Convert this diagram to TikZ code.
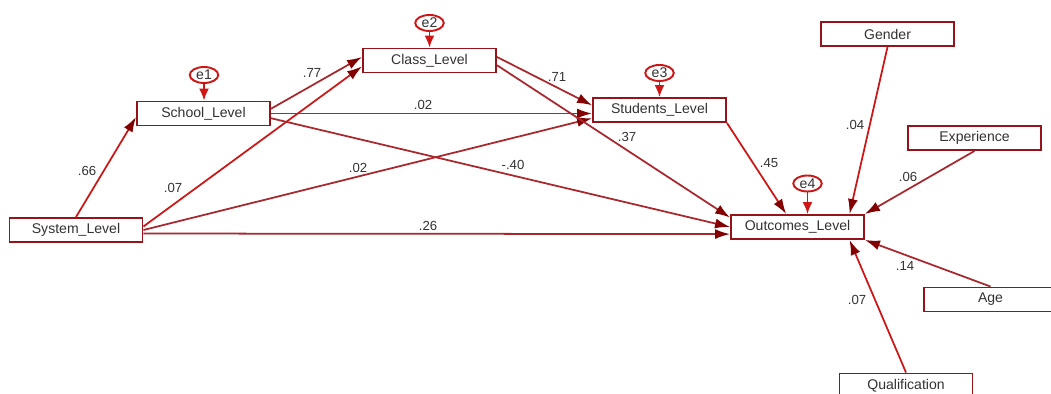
\documentclass[tikz,border=0pt]{standalone}
\usepackage{fontspec}
\setmainfont{Liberation Sans}
\usetikzlibrary{arrows.meta,shapes.geometric}

\definecolor{boxred}{RGB}{150,20,25}
\definecolor{linered}{RGB}{168,40,46}
\definecolor{brightred}{RGB}{205,22,22}
\definecolor{tipred}{RGB}{130,0,0}
\definecolor{textgray}{RGB}{50,50,50}

\begin{document}
\begin{tikzpicture}[x=0.02cm, y=-0.02cm,
    box/.style={draw=boxred, line width=1.1pt, minimum width=2.66cm, minimum height=0.48cm,
        inner sep=0pt, text=textgray, font=\fontsize{8}{9}\selectfont},
    err/.style={ellipse, draw=brightred, line width=1.1pt, minimum width=0.57cm, minimum height=0.32cm,
        inner sep=0pt, text=textgray, font=\fontsize{8}{9}\selectfont},
    arr/.style={draw=linered, line width=1pt, -{Latex[length=0.3cm, width=0.2cm, color=tipred]}},
    arrb/.style={arr, draw=brightred},
    earr/.style={draw=brightred, line width=1pt, -{Latex[length=0.24cm, width=0.2cm, color=brightred]}},
    lbl/.style={text=textgray, inner sep=0pt, font=\fontsize{7.5}{8}\selectfont}]

    % Frame (pixels of the reference)
    \useasboundingbox (0,0) rectangle (1051,394);
    \clip (0,0) rectangle (1051,394);

    % Observed variables
    \node[box] (sys) at (76,230) {System\_Level};
    \node[box] (school) at (203.5,113.5) {School\_Level};
    \node[box] (class) at (429.5,60.5) {Class\_Level};
    \node[box] (students) at (659.5,110) {Students\_Level};
    \node[box] (outcomes) at (797.5,227) {Outcomes\_Level};
    \node[box] (gender) at (887.5,34) {Gender};
    \node[box] (experience) at (974.5,138) {Experience};
    \node[box] (age) at (990.5,299.5) {Age};
    \node[box] (qual) at (906,385.5) {Qualification};

    % Error terms
    \node[err] (e1) at (204,75) {e1};
    \node[err] (e2) at (429.5,23) {e2};
    \node[err] (e3) at (659.5,73) {e3};
    \node[err] (e4) at (807.5,183.5) {e4};

    \draw[earr] (e1.south) -- (e1.south |- school.north);
    \draw[earr] (e2.south) -- (e2.south |- class.north);
    \draw[earr] (e3.south) -- (e3.south |- students.north);
    \draw[earr] (e4.south) -- (e4.south |- outcomes.north);

    % Paths from System_Level
    \draw[arrb] (sys.north) -- (school.183);
    \draw[arrb] (sys.3) -- (class.185);
    \draw[arr] (sys.east) -- (students.187);
    \draw[arr] (sys.-3) -- (outcomes.186);

    % Paths from School_Level and Class_Level
    \draw[arr] (school.4) -- (class.177);
    \draw[arr] (school.east) -- (school.east -| students.west);
    \draw[arr] (school.-4) -- (outcomes.west);
    \draw[arr] (class.3) -- (students.176);
    \draw[arr] (class.-4) -- (outcomes.172);

    % Paths into Outcomes_Level
    \draw[arrb] (students.south east) -- (outcomes.131);
    \draw[arrb] (gender.south) -- (outcomes.14);
    \draw[arr] (experience.south) -- (outcomes.north east);
    \draw[arr] (age.north) -- (outcomes.south east);
    \draw[arrb] (qual.north) -- (outcomes.-14);

    % Coefficients
    \node[lbl] (c66) at (87,171) {.66};
    \node[lbl] (c07a) at (173,188) {.07};
    \node[lbl] (c02a) at (358,168) {.02};
    \node[lbl] (c26) at (428,226) {.26};
    \node[lbl] (c77) at (312,73) {.77};
    \node[lbl] (c02b) at (423,105) {.02};
    \node[lbl] (c40) at (513,165) {-.40};
    \node[lbl] (c71) at (557,77) {.71};
    \node[lbl] (c37) at (627,137) {.37};
    \node[lbl] (c45) at (769,163) {.45};
    \node[lbl] (c04) at (855,125) {.04};
    \node[lbl] (c06) at (908,177) {.06};
    \node[lbl] (c14) at (905,266) {.14};
    \node[lbl] (c07b) at (857,300) {.07};

\end{tikzpicture}
\end{document}
